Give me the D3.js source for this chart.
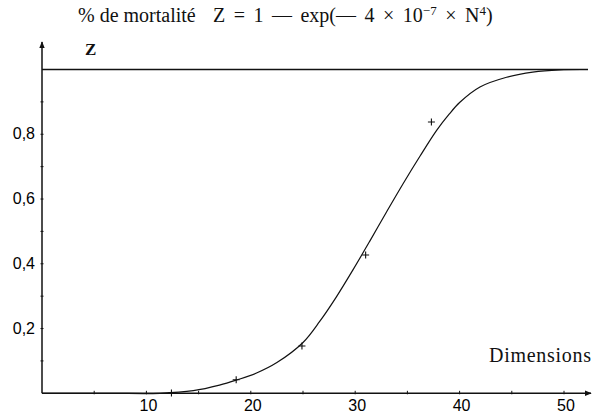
<!DOCTYPE html>
<html>
<head>
<meta charset="utf-8">
<script src="https://cdn.jsdelivr.net/npm/d3@7"></script>
<style>
  body { margin: 0; background: #fff; }
  svg { display: block; }
  .serif { font-family: "Liberation Serif", "Times New Roman", serif; fill: #111; }
  .tick-label { font-family: "Liberation Sans", Arial, sans-serif; fill: #000; }
</style>
</head>
<body>
<div id="container"></div>
<script>
// curve (N, Z)
const curveN = [0, 6.5, 11.3, 14.5, 17.0, 18.65, 20.5, 22.5, 25.0, 26.6, 28.2, 29.8, 31.4, 33.0, 34.6, 36.2, 37.8, 39.0, 40.0, 41.95, 44.5, 47.0, 49.6, 52.3];
const curveZ = [0, 0, 0, 0.008, 0.025, 0.041, 0.062, 0.095, 0.157, 0.222, 0.298, 0.382, 0.470, 0.560, 0.648, 0.732, 0.812, 0.862, 0.898, 0.946, 0.976, 0.992, 0.999, 1.0];

// measured points (crosses)
const pointN = [12.4, 18.6, 24.9, 31.0, 37.3];
const pointZ = [0.001, 0.042, 0.146, 0.427, 0.838];

const xTicks = [10, 20, 30, 40, 50];
const xMinor = [5, 15, 25, 35, 45];
const yTicks = [0.2, 0.4, 0.6, 0.8];
const yTickLabels = ["0,2", "0,4", "0,6", "0,8"];
const yMinor = [0.1, 0.3, 0.5, 0.7, 0.9];

const width = 592;
const height = 415;

const svg = d3.select("#container")
              .append("svg")
              .attr("width", width)
              .attr("height", height);

const xScale = d3.scaleLinear()
                 .domain([0, 50])
                 .range([42, 564]);
const yScale = d3.scaleLinear()
                 .domain([0, 1])
                 .range([393.3, 69.5]);

const ink = "#111";

// axes with arrow heads
svg.append("defs")
   .append("marker")
   .attr("id", "arrow")
   .attr("viewBox", "0 0 10 10")
   .attr("refX", 9)
   .attr("refY", 5)
   .attr("markerWidth", 7)
   .attr("markerHeight", 7)
   .attr("markerUnits", "userSpaceOnUse")
   .attr("orient", "auto")
   .append("path")
   .attr("d", "M0,1 L10,5 L0,9 Z")
   .attr("fill", ink);

svg.append("line")
   .attr("x1", xScale(0)).attr("y1", yScale(0))
   .attr("x2", 591).attr("y2", yScale(0))
   .attr("stroke", ink).attr("stroke-width", 1.5)
   .attr("marker-end", "url(#arrow)");

svg.append("line")
   .attr("x1", xScale(0)).attr("y1", yScale(0))
   .attr("x2", xScale(0)).attr("y2", 42)
   .attr("stroke", ink).attr("stroke-width", 1.5)
   .attr("marker-end", "url(#arrow)");

// asymptote Z = 1
svg.append("line")
   .attr("x1", xScale(0)).attr("y1", yScale(1))
   .attr("x2", 588).attr("y2", yScale(1))
   .attr("stroke", ink).attr("stroke-width", 1.4);

// ticks
svg.selectAll(".xtick")
   .data(xTicks.concat(xMinor))
   .enter()
   .append("line")
   .attr("class", "xtick")
   .attr("x1", (d) => xScale(d)).attr("x2", (d) => xScale(d))
   .attr("y1", yScale(0) - 2.5).attr("y2", yScale(0) + 1)
   .attr("stroke", ink).attr("stroke-width", 1);

svg.selectAll(".ytick")
   .data(yTicks.concat(yMinor))
   .enter()
   .append("line")
   .attr("class", "ytick")
   .attr("x1", xScale(0) - 1.5).attr("x2", xScale(0) + 1.5)
   .attr("y1", (d) => yScale(d)).attr("y2", (d) => yScale(d))
   .attr("stroke", ink).attr("stroke-width", 1);

svg.selectAll(".xlabel")
   .data(xTicks)
   .enter()
   .append("text")
   .attr("class", "tick-label")
   .attr("x", (d) => xScale(d) + 2)
   .attr("y", 411)
   .attr("text-anchor", "middle")
   .attr("font-size", 16)
   .text((d) => d);

svg.selectAll(".ylabel")
   .data(yTicks)
   .enter()
   .append("text")
   .attr("class", "tick-label")
   .attr("x", 35)
   .attr("y", (d) => yScale(d) + 5)
   .attr("text-anchor", "end")
   .attr("font-size", 16)
   .text((d, i) => yTickLabels[i]);

// curve
const curveData = curveN.map((n, i) => [n, curveZ[i]]);
const line = d3.line()
               .x((d) => xScale(d[0]))
               .y((d) => yScale(d[1]))
               .curve(d3.curveCatmullRom.alpha(0.5));
svg.append("path")
   .datum(curveData)
   .attr("d", line)
   .attr("fill", "none")
   .attr("stroke", ink)
   .attr("stroke-width", 1.2);

// crosses
const pointData = pointN.map((n, i) => [n, pointZ[i]]);
svg.selectAll(".cross")
   .data(pointData)
   .enter()
   .append("path")
   .attr("class", "cross")
   .attr("d", (d) => {
     const cx = xScale(d[0]), cy = yScale(d[1]);
     return "M" + (cx - 3.5) + "," + cy + "H" + (cx + 3.5) + "M" + cx + "," + (cy - 3.5) + "V" + (cy + 3.5);
   })
   .attr("stroke", ink)
   .attr("stroke-width", 1.1);

// texts
svg.append("text")
   .attr("class", "serif")
   .attr("x", 78)
   .attr("y", 22)
   .attr("font-size", 20)
   .text("% de mortalité");

const title = svg.append("text")
                 .attr("class", "serif")
                 .attr("x", 213)
                 .attr("y", 22)
                 .attr("font-size", 20)
                 .attr("word-spacing", 3.5);
title.append("tspan").text("Z = 1 — exp(— 4 × 10");
title.append("tspan").attr("dy", -7).attr("font-size", 13).text("−7");
title.append("tspan").attr("dy", 7).text(" × N");
title.append("tspan").attr("dy", -7).attr("font-size", 13).text("4");
title.append("tspan").attr("dy", 7).text(")");

svg.append("text")
   .attr("class", "serif")
   .attr("x", 85)
   .attr("y", 55)
   .attr("font-size", 17)
   .attr("font-weight", "bold")
   .text("Z");

svg.append("text")
   .attr("class", "serif")
   .attr("x", 489)
   .attr("y", 362)
   .attr("font-size", 20)
   .attr("textLength", 102)
   .attr("lengthAdjust", "spacing")
   .text("Dimensions");
</script>
</body>
</html>
